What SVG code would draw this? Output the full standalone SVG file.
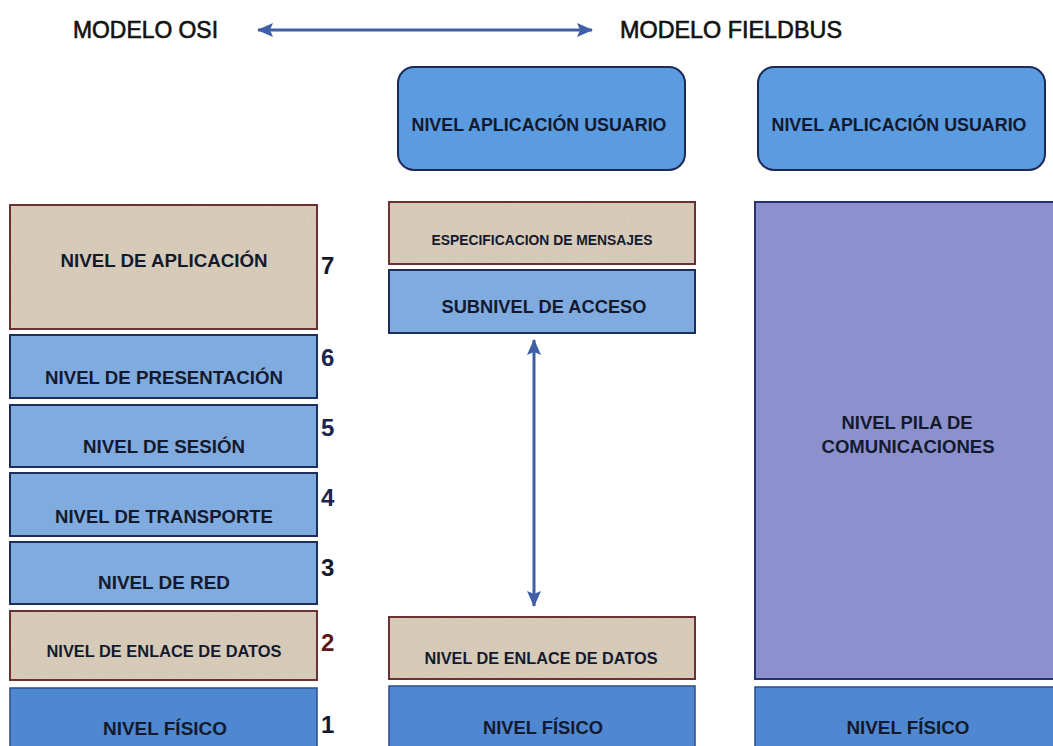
<svg xmlns="http://www.w3.org/2000/svg" width="1053" height="746" viewBox="0 0 1053 746">
  <defs>
    <style>
      text { font-family: "Liberation Sans", Arial, sans-serif; font-weight: bold; fill: #141a2e; text-anchor: middle; }
      .title { font-size: 23px; font-weight: normal; fill: #111; stroke: #111; stroke-width: 0.6; text-anchor: start; }
      .lbl { font-size: 19px; }
      .sm { font-size: 17px; }
      .xs { font-size: 14px; }
      .num { font-size: 24px; text-anchor: start; }
      .tan { fill: #d4c7b4; stroke: #6b3236; stroke-width: 2; }
      .blue { fill: #80abdf; stroke: #1d2d5c; stroke-width: 2; }
      .phys { fill: #4f88d1; stroke: #2b4b8c; stroke-width: 1.5; }
      .user { fill: #5b9be0; stroke: #1c2a55; stroke-width: 2; }
      .stack { fill: #8c91cd; stroke: #27336f; stroke-width: 2; }
      .conn { stroke: #3f5fa6; stroke-width: 3; fill: none; }
      .noise { stroke: none; fill: #ffffff; opacity: 0.5; }
    </style>
    <marker id="head" viewBox="0 0 16 14" refX="15" refY="7" markerWidth="16" markerHeight="14" markerUnits="userSpaceOnUse" orient="auto-start-reverse">
      <path d="M0,0 L16,7 L0,14 L3,7 Z" fill="#3f5fa6"/>
    </marker>
    <filter id="grain" x="0" y="0" width="100%" height="100%">
      <feTurbulence type="fractalNoise" baseFrequency="0.8" numOctaves="2" seed="3" result="n"/>
      <feColorMatrix in="n" type="matrix" values="0 0 0 0 1  0 0 0 0 1  0 0 0 0 1  0 0 0 0.6 -0.2" result="w"/>
      <feComposite in="w" in2="SourceGraphic" operator="in"/>
    </filter>
  </defs>

  <rect width="1053" height="746" fill="#ffffff"/>

  <!-- headings -->
  <g id="title-osi"><text class="title" x="73" y="38" textLength="145" lengthAdjust="spacingAndGlyphs">MODELO OSI</text></g>
  <g id="title-fieldbus"><text class="title" x="620" y="38" textLength="222" lengthAdjust="spacingAndGlyphs">MODELO FIELDBUS</text></g>

  <!-- OSI stack -->
  <g id="osi-7">
    <rect class="tan" x="10" y="205" width="307" height="124"/>
    <rect class="noise" x="11" y="206" width="305" height="122" filter="url(#grain)"/>
    <text class="lbl" x="164" y="267" textLength="207" lengthAdjust="spacingAndGlyphs">NIVEL DE APLICACIÓN</text>
    <text class="num" x="321" y="274">7</text>
  </g>
  <g id="osi-6">
    <rect class="blue" x="10" y="335" width="307" height="63"/>
    <text class="lbl" x="164" y="384" textLength="238" lengthAdjust="spacingAndGlyphs">NIVEL DE PRESENTACIÓN</text>
    <text class="num" x="321" y="366" style="fill:#1d2450">6</text>
  </g>
  <g id="osi-5">
    <rect class="blue" x="10" y="405" width="307" height="62"/>
    <text class="lbl" x="164" y="453" textLength="162" lengthAdjust="spacingAndGlyphs">NIVEL DE SESIÓN</text>
    <text class="num" x="321" y="436" style="fill:#1d2450">5</text>
  </g>
  <g id="osi-4">
    <rect class="blue" x="10" y="473" width="307" height="63"/>
    <text class="lbl" x="164" y="523" textLength="218" lengthAdjust="spacingAndGlyphs">NIVEL DE TRANSPORTE</text>
    <text class="num" x="321" y="506" style="fill:#1d2450">4</text>
  </g>
  <g id="osi-3">
    <rect class="blue" x="10" y="542" width="307" height="62"/>
    <text class="lbl" x="164" y="589" textLength="132" lengthAdjust="spacingAndGlyphs">NIVEL DE RED</text>
    <text class="num" x="321" y="576">3</text>
  </g>
  <g id="osi-2">
    <rect class="tan" x="10" y="611" width="307" height="69"/>
    <rect class="noise" x="11" y="612" width="305" height="67" filter="url(#grain)"/>
    <text class="sm" x="164" y="657" textLength="235" lengthAdjust="spacingAndGlyphs">NIVEL DE ENLACE DE DATOS</text>
    <text class="num" x="321" y="651" style="fill:#5a1a1e">2</text>
  </g>
  <g id="osi-1">
    <rect class="phys" x="10" y="688" width="307" height="62"/>
    <text class="lbl" x="165" y="735" textLength="124" lengthAdjust="spacingAndGlyphs">NIVEL FÍSICO</text>
    <text class="num" x="321" y="733">1</text>
  </g>

  <!-- Fieldbus stack, detailed -->
  <g id="fb-user">
    <rect class="user" x="398" y="67" width="287" height="103" rx="16"/>
    <text class="lbl" x="539" y="131" textLength="255" lengthAdjust="spacingAndGlyphs">NIVEL APLICACIÓN USUARIO</text>
  </g>
  <g id="fb-mensajes">
    <rect class="tan" x="389" y="202" width="306" height="62"/>
    <rect class="noise" x="390" y="203" width="304" height="60" filter="url(#grain)"/>
    <text class="xs" x="542" y="245" textLength="221" lengthAdjust="spacingAndGlyphs">ESPECIFICACION DE MENSAJES</text>
  </g>
  <g id="fb-acceso">
    <rect class="blue" x="389" y="270" width="306" height="63"/>
    <text class="lbl" x="544" y="313" textLength="205" lengthAdjust="spacingAndGlyphs">SUBNIVEL DE ACCESO</text>
  </g>
  <g id="fb-enlace">
    <rect class="tan" x="389" y="617" width="306" height="62"/>
    <rect class="noise" x="390" y="618" width="304" height="60" filter="url(#grain)"/>
    <text class="sm" x="541" y="664" textLength="233" lengthAdjust="spacingAndGlyphs">NIVEL DE ENLACE DE DATOS</text>
  </g>
  <g id="fb-fisico">
    <rect class="phys" x="389" y="686" width="306" height="64"/>
    <text class="lbl" x="543" y="734" textLength="120" lengthAdjust="spacingAndGlyphs">NIVEL FÍSICO</text>
  </g>

  <!-- Fieldbus stack, compact -->
  <g id="fb2-user">
    <rect class="user" x="758" y="67" width="287" height="103" rx="16"/>
    <text class="lbl" x="899" y="131" textLength="255" lengthAdjust="spacingAndGlyphs">NIVEL APLICACIÓN USUARIO</text>
  </g>
  <g id="fb2-pila">
    <rect class="stack" x="755" y="202" width="302" height="477"/>
    <text class="lbl" x="907" y="429" textLength="131" lengthAdjust="spacingAndGlyphs">NIVEL PILA DE</text>
    <text class="lbl" x="908" y="453" textLength="173" lengthAdjust="spacingAndGlyphs">COMUNICACIONES</text>
  </g>
  <g id="fb2-fisico">
    <rect class="phys" x="755" y="687" width="302" height="63"/>
    <text class="lbl" x="908" y="734" textLength="123" lengthAdjust="spacingAndGlyphs">NIVEL FÍSICO</text>
  </g>

  <!-- connectors -->
  <g id="connectors">
    <line class="conn" x1="258" y1="30" x2="592" y2="30" marker-start="url(#head)" marker-end="url(#head)"/>
    <line class="conn" x1="534" y1="340" x2="534" y2="606" marker-start="url(#head)" marker-end="url(#head)"/>
  </g>
</svg>
